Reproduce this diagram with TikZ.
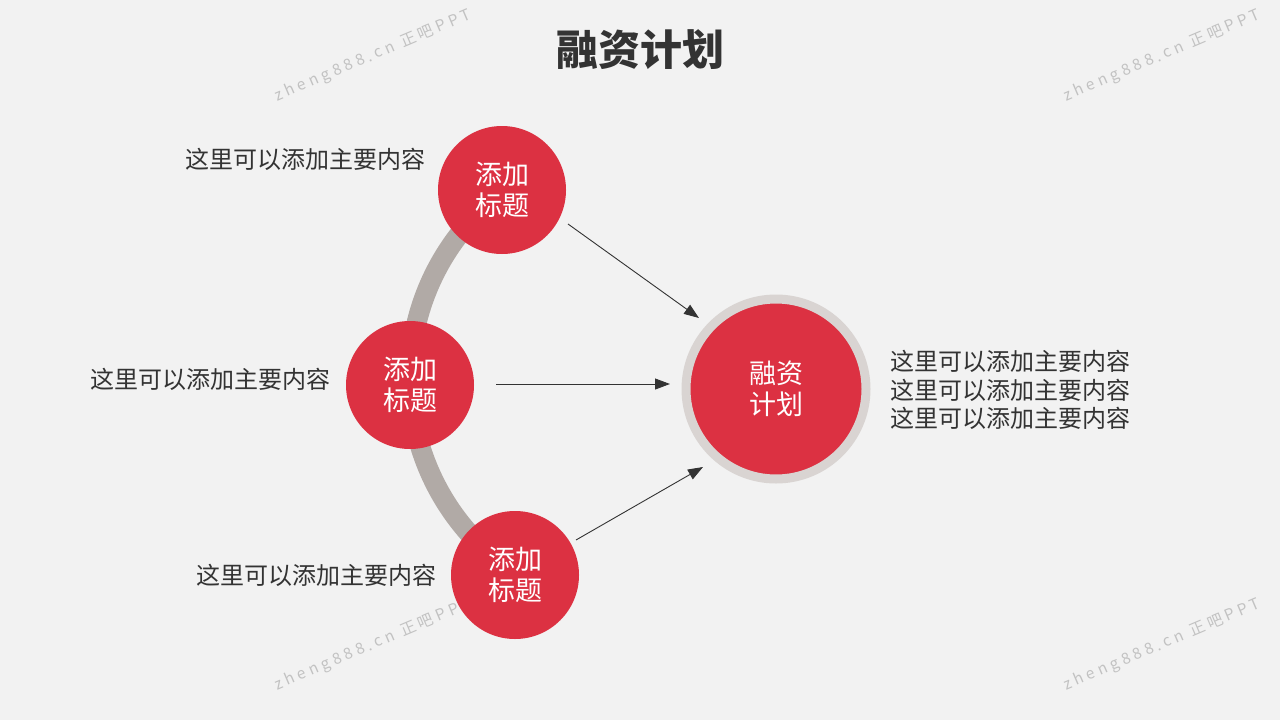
\documentclass[tikz,border=0pt]{standalone}
\usepackage{fontspec}
\setmainfont{Noto Sans CJK SC}
\newfontfamily\wmfont[LetterSpace=25]{Noto Sans CJK SC}
\usetikzlibrary{arrows.meta}
\definecolor{bgcol}{HTML}{F2F2F2}
\definecolor{rongred}{HTML}{DC3142}
\definecolor{ringgrey}{HTML}{D9D4D2}
\definecolor{arcgrey}{HTML}{B1AAA6}
\definecolor{textgrey}{HTML}{333333}
\definecolor{markgrey}{HTML}{C2C2C2}

\begin{document}
\begin{tikzpicture}[x=1pt,y=-1pt,
	dot/.style={circle,fill=rongred,text=white,minimum size=128pt,inner sep=0pt,align=center,execute at begin node={\rule{0pt}{29pt}},font=\fontsize{27}{31}\selectfont},
	note/.style={inner sep=0pt,text=textgrey,align=left,font=\fontsize{24}{28.5}\selectfont},
	link/.style={draw=textgrey,line width=0.9pt,-{Triangle[length=15pt,width=11pt]}},
	wmark/.style={text=markgrey,rotate=23,inner sep=0pt,font=\wmfont\fontsize{15.5}{15.5}\selectfont}]
					\fill[bgcol] (0,0) rectangle (1280,720);
					\useasboundingbox (0,0) rectangle (1280,720);
					\node[wmark] (wm1) at (373,56) {zheng888.cn 正吧PPT};
					\node[wmark] (wm2) at (1162,56) {zheng888.cn 正吧PPT};
					\node[wmark] (wm3) at (373,645) {zheng888.cn 正吧PPT};
					\node[wmark] (wm4) at (1162,645) {zheng888.cn 正吧PPT};
					\node[text=textgrey,inner sep=0pt,font=\fontsize{42}{42}\selectfont\bfseries] (title) at (640,50) {融资计划};
					\draw[arcgrey,line width=20pt] (644,378) ++(123:234) arc[start angle=123,end angle=233,radius=234];
					\node[dot] (top) at (502,190) {添加\\标题};
					\node[dot] (mid) at (410,385) {添加\\标题};
					\node[dot] (bot) at (515,575) {添加\\标题};
					\node[dot,minimum size=180pt,draw=ringgrey,line width=9pt] (plan) at (776,389) {融资\\计划};
					\node[note,anchor=east] (topnote) at (426,159) {这里可以添加主要内容};
					\node[note,anchor=east] (midnote) at (331,379) {这里可以添加主要内容};
					\node[note,anchor=east] (botnote) at (437,575) {这里可以添加主要内容};
					\node[note,anchor=west] (plannote) at (890,390) {这里可以添加主要内容\\这里可以添加主要内容\\这里可以添加主要内容};
					\coordinate (topout) at (568,224);
					\coordinate (topin) at (699,318);
					\coordinate (midout) at (496,384);
					\coordinate (midin) at (670,384);
					\coordinate (botout) at (576,540);
					\coordinate (botin) at (703,467);
					\draw[link] (topout) -- (topin);
					\draw[link] (midout) -- (midin);
					\draw[link] (botout) -- (botin);
				\end{tikzpicture}
\end{document}
